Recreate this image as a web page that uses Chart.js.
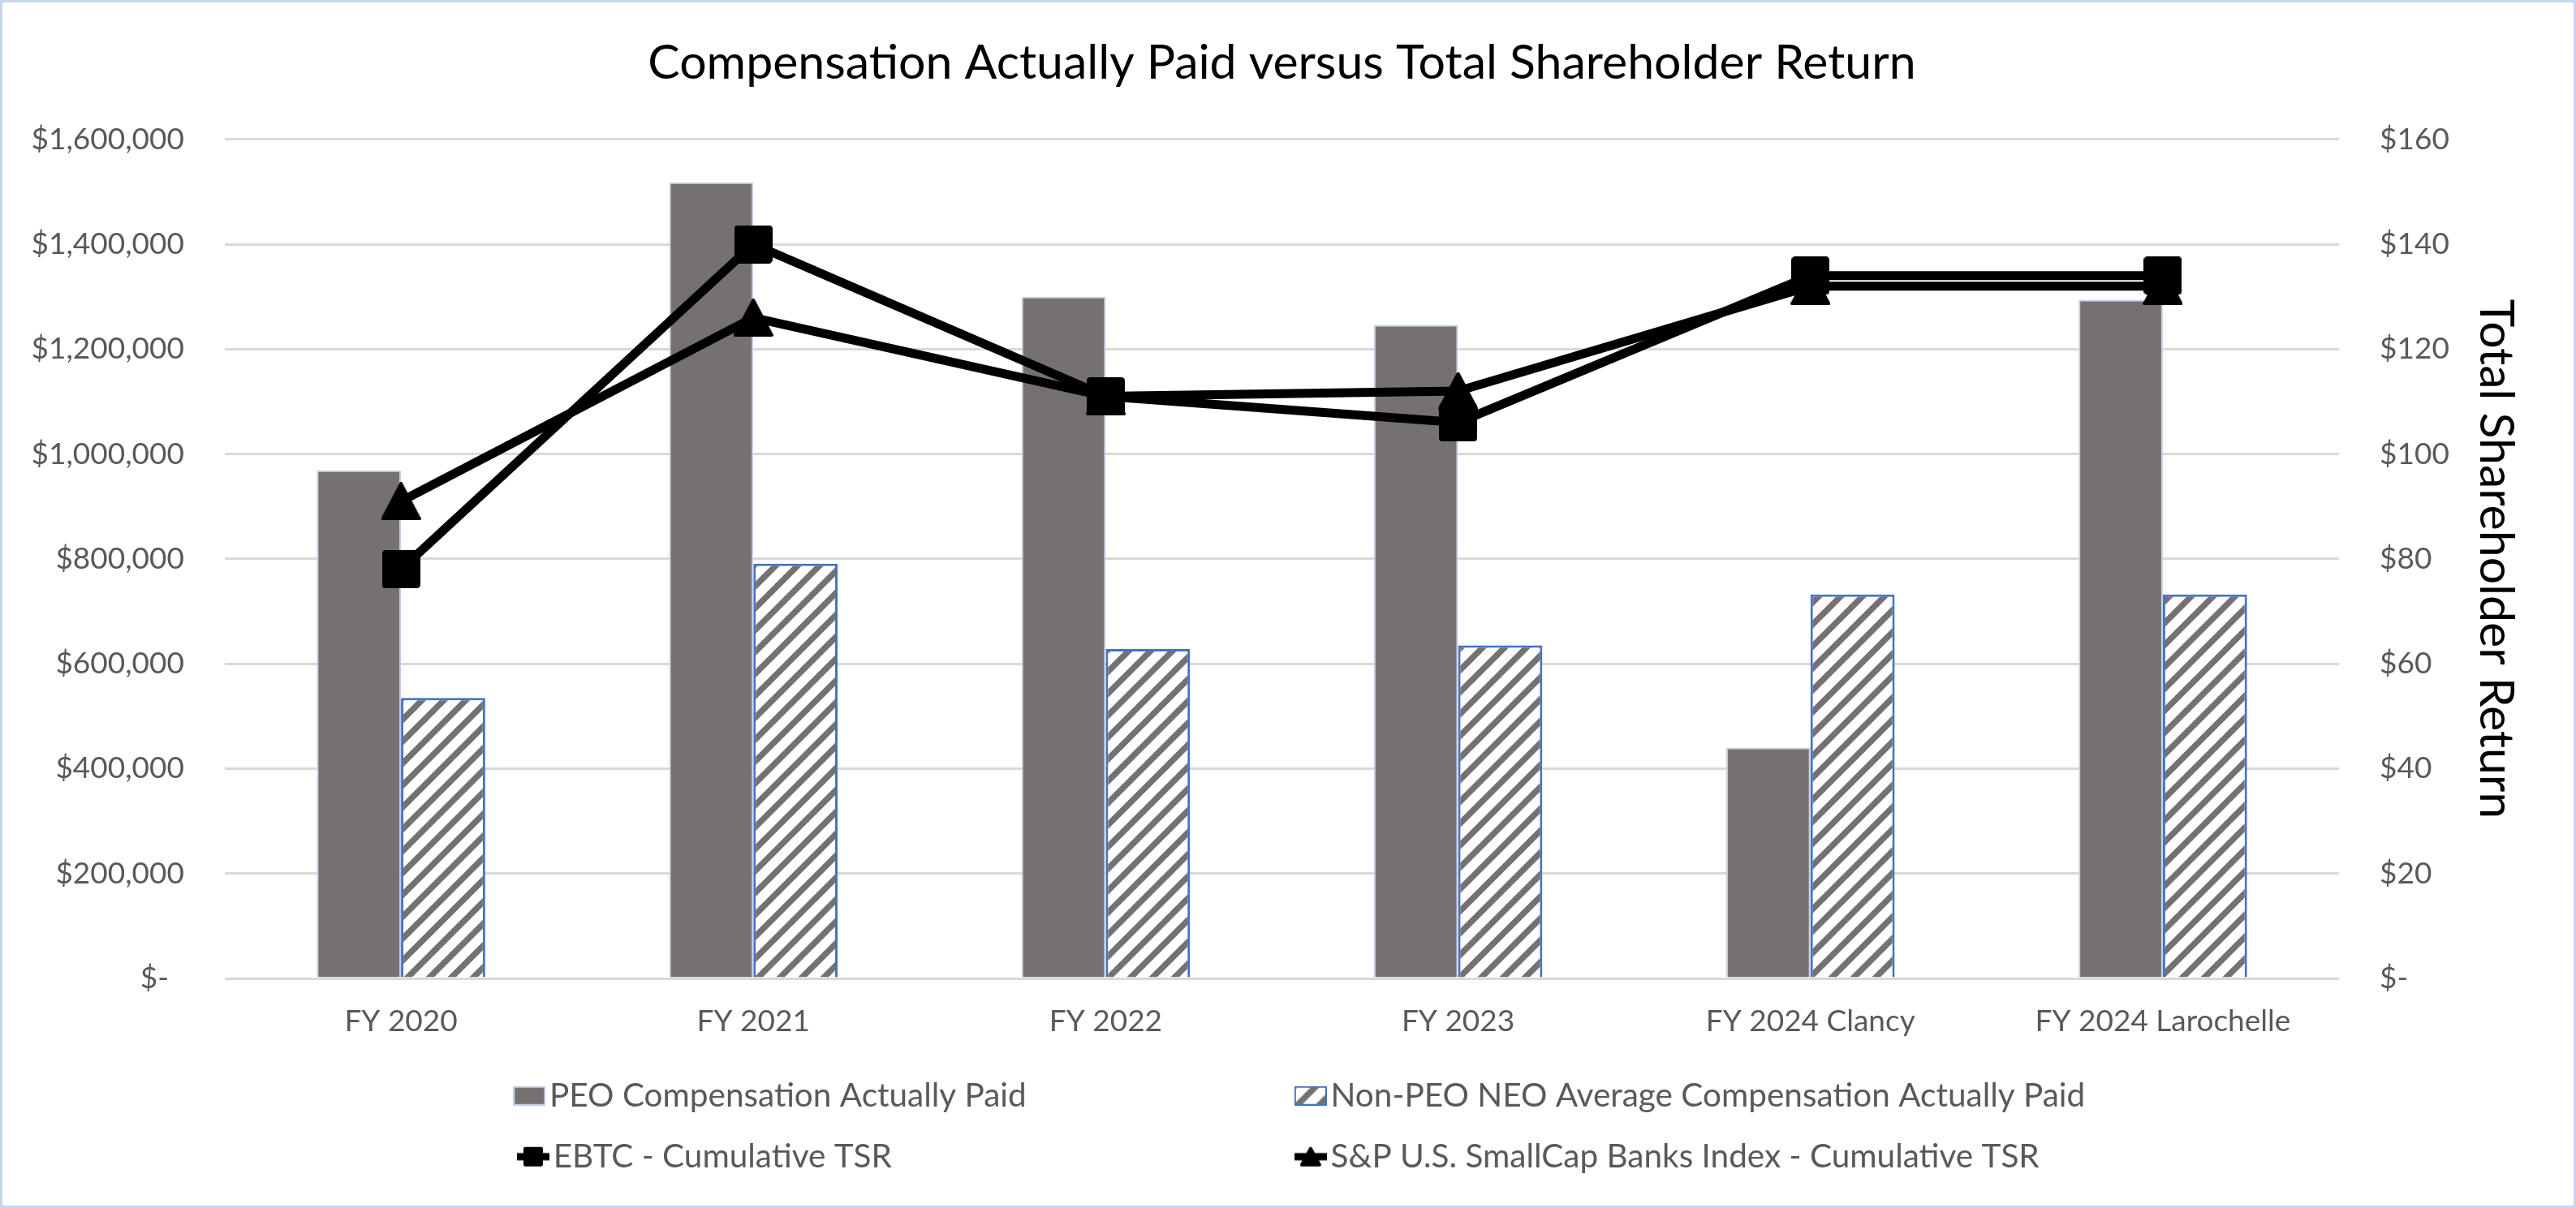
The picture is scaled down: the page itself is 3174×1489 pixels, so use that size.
<!DOCTYPE html>
<html>
<head>
<meta charset="utf-8">
<title>Compensation Actually Paid versus Total Shareholder Return</title>
<script src="https://cdn.jsdelivr.net/npm/chart.js@4.4.1/dist/chart.umd.min.js"></script>
<style>
  html, body { margin: 0; padding: 0; background: #fff; }
  #wrap { width: 3174px; height: 1489px; box-sizing: border-box; border: 3px solid #C8D3EC; background: #fff; }
  canvas { display: block; }
</style>
</head>
<body>
<div id="wrap"><canvas id="cap"></canvas></div>
<script>
// data
const categories = ['FY 2020', 'FY 2021', 'FY 2022', 'FY 2023', 'FY 2024 Clancy', 'FY 2024 Larochelle'];
const peoCap = [969000, 1518000, 1300000, 1246000, 440000, 1294000];
const neoCap = [535000, 791000, 628000, 635000, 732000, 732000];
const ebtcTsr = [78, 140, 111, 106, 134, 134];
const indexTsr = [91, 126, 111, 112, 132, 132];
const compTicks = [0, 200000, 400000, 600000, 800000, 1000000, 1200000, 1400000, 1600000];
const tsrTicks = [0, 20, 40, 60, 80, 100, 120, 140, 160];
const seriesNames = [
    'PEO Compensation Actually Paid',
    'Non-PEO NEO Average Compensation Actually Paid',
    'EBTC - Cumulative TSR',
    'S&P U.S. SmallCap Banks Index - Cumulative TSR'
];

const GREY = '#767171';
const LABEL = '#595959';
const FONT = 'Lato';
const LABEL_SIZE = 37;
const LEGEND_SIZE = 40.5;

Chart.defaults.font.family = FONT;

// diagonal hatch tile for the non-PEO bars
function hatchTile() {
    const t = 27;
    const c = document.createElement('canvas');
    c.width = t; c.height = t;
    const g = c.getContext('2d');
    g.fillStyle = '#fff';
    g.fillRect(0, 0, t, t);
    g.strokeStyle = GREY;
    g.lineWidth = 7.5;
    g.beginPath();
    g.moveTo(0, t); g.lineTo(t, 0);
    g.moveTo(-6, 6); g.lineTo(6, -6);
    g.moveTo(t - 6, t + 6); g.lineTo(t + 6, t - 6);
    g.stroke();
    return c;
}

function squareMark(size) {
    const c = document.createElement('canvas');
    c.width = size; c.height = size;
    const g = c.getContext('2d');
    g.fillStyle = '#000';
    g.beginPath();
    g.roundRect(0, 0, size, size, size * 0.09);
    g.fill();
    return c;
}

function triangleMark(w, h) {
    const c = document.createElement('canvas');
    c.width = w; c.height = h;
    const g = c.getContext('2d');
    g.fillStyle = '#000';
    g.lineJoin = 'round';
    g.lineWidth = 4;
    g.strokeStyle = '#000';
    g.beginPath();
    g.moveTo(w / 2, 2); g.lineTo(w - 2, h - 2); g.lineTo(2, h - 2);
    g.closePath();
    g.fill(); g.stroke();
    return c;
}

function lineIcon(mark) {
    const w = 40, h = Math.max(28, mark.height);
    const c = document.createElement('canvas');
    c.width = w; c.height = h;
    const g = c.getContext('2d');
    g.fillStyle = '#000';
    g.fillRect(0, h / 2 - 4.5, w, 9);
    g.drawImage(mark, (w - mark.width) / 2, (h - mark.height) / 2);
    return c;
}

function boxIcon(fill, stroke, lw) {
    const c = document.createElement('canvas');
    c.width = 40; c.height = 24;
    const g = c.getContext('2d');
    g.fillStyle = fill;
    g.fillRect(0, 0, 40, 24);
    g.strokeStyle = stroke;
    g.lineWidth = lw;
    g.strokeRect(lw / 2, lw / 2, 40 - lw, 24 - lw);
    return c;
}

const ctx = document.getElementById('cap').getContext('2d');
const hatch = ctx.createPattern(hatchTile(), 'repeat');

const legendIcons = [
    boxIcon(GREY, '#C3CFE9', 2),
    boxIcon(ctx.createPattern(hatchTile(), 'repeat'), '#4472C4', 2),
    lineIcon(squareMark(24)),
    lineIcon(triangleMark(26, 24))
];

// pad legend texts so the two columns line up
const meas = document.createElement('canvas').getContext('2d');
meas.font = LEGEND_SIZE + 'px ' + FONT;
function padTo(text, w) {
    let s = text;
    while (meas.measureText(s + ' ').width <= w) s += ' ';
    return s;
}
const colStep = 968, legendPad = 34.5, iconBox = 9;
const col1W = colStep - iconBox - LEGEND_SIZE / 2 - legendPad;
const legendTexts = [
    padTo(seriesNames[0], col1W),
    seriesNames[1],
    padTo(seriesNames[2], col1W),
    padTo(seriesNames[3], meas.measureText(seriesNames[1]).width)
];

// nudge the legend block a little to the right, like the original
const legendShift = {
    id: 'legendShift',
    afterLayout(chart) {
        chart.legend.left += 29;
        chart.legend.right += 29;
    }
};

new Chart(ctx, {
    data: {
        labels: categories,
        datasets: [
            {
                type: 'bar',
                label: seriesNames[0],
                data: peoCap,
                yAxisID: 'y',
                backgroundColor: GREY,
                borderColor: '#C3CFE9',
                borderWidth: 2,
                categoryPercentage: 0.478,
                barPercentage: 1,
                order: 2
            },
            {
                type: 'bar',
                label: seriesNames[1],
                data: neoCap,
                yAxisID: 'y',
                backgroundColor: hatch,
                borderColor: '#4472C4',
                borderWidth: 3,
                categoryPercentage: 0.478,
                barPercentage: 1,
                order: 3
            },
            {
                type: 'line',
                label: seriesNames[2],
                data: ebtcTsr,
                yAxisID: 'y1',
                borderColor: '#000',
                backgroundColor: '#000',
                borderWidth: 11,
                borderJoinStyle: 'round',
                pointStyle: squareMark(47),
                pointRadius: 23,
                order: 0
            },
            {
                type: 'line',
                label: seriesNames[3],
                data: indexTsr,
                yAxisID: 'y1',
                borderColor: '#000',
                backgroundColor: '#000',
                borderWidth: 11,
                borderJoinStyle: 'round',
                pointStyle: triangleMark(49, 47),
                pointRadius: 23,
                order: 1
            }
        ]
    },
    options: {
        responsive: true,
        maintainAspectRatio: false,
        devicePixelRatio: 1,
        animation: false,
        layout: { padding: { left: 36, right: 51, top: 0, bottom: 30 } },
        plugins: {
            title: {
                display: true,
                text: 'Compensation Actually Paid versus Total Shareholder Return',
                color: '#000',
                font: { size: 59, weight: 'normal' },
                padding: { top: 40, bottom: 58 }
            },
            legend: {
                position: 'bottom',
                fullSize: false,
                labels: {
                    color: LABEL,
                    font: { size: LEGEND_SIZE },
                    padding: legendPad,
                    usePointStyle: true,
                    pointStyleWidth: iconBox,
                    generateLabels(chart) {
                        const items = Chart.defaults.plugins.legend.labels.generateLabels(chart);
                        items.forEach((it, i) => {
                            it.pointStyle = legendIcons[i];
                            it.text = legendTexts[i];
                        });
                        return items;
                    }
                }
            },
            tooltip: { enabled: false }
        },
        scales: {
            x: {
                grid: { display: false },
                border: { display: false },
                ticks: { color: LABEL, font: { size: LABEL_SIZE }, padding: 23, maxRotation: 0, autoSkip: false },
                afterFit(s) { s.height = 90; }
            },
            y: {
                position: 'left',
                min: 0,
                max: 1600000,
                afterBuildTicks(s) { s.ticks = compTicks.map(v => ({ value: v })); },
                afterFit(s) { s.width = 238; },
                grid: { color: '#D9D9D9', lineWidth: 3, drawTicks: false },
                border: { display: false },
                ticks: {
                    color: LABEL,
                    font: { size: LABEL_SIZE },
                    padding: 50,
                    callback: v => v === 0 ? '$-  ' : '$' + v.toLocaleString('en-US')
                }
            },
            y1: {
                position: 'right',
                min: 0,
                max: 160,
                afterBuildTicks(s) { s.ticks = tsrTicks.map(v => ({ value: v })); },
                afterFit(s) { s.width = 238; },
                grid: { display: false, drawTicks: false },
                border: { display: false },
                ticks: {
                    color: LABEL,
                    font: { size: LABEL_SIZE },
                    padding: 50,
                    callback: v => v === 0 ? '$-' : '$' + v
                },
                title: {
                    display: true,
                    text: 'Total Shareholder Return',
                    color: '#000',
                    font: { size: 59 },
                    padding: { top: 10, bottom: 22 }
                }
            }
        }
    },
    plugins: [legendShift]
});
</script>
</body>
</html>
